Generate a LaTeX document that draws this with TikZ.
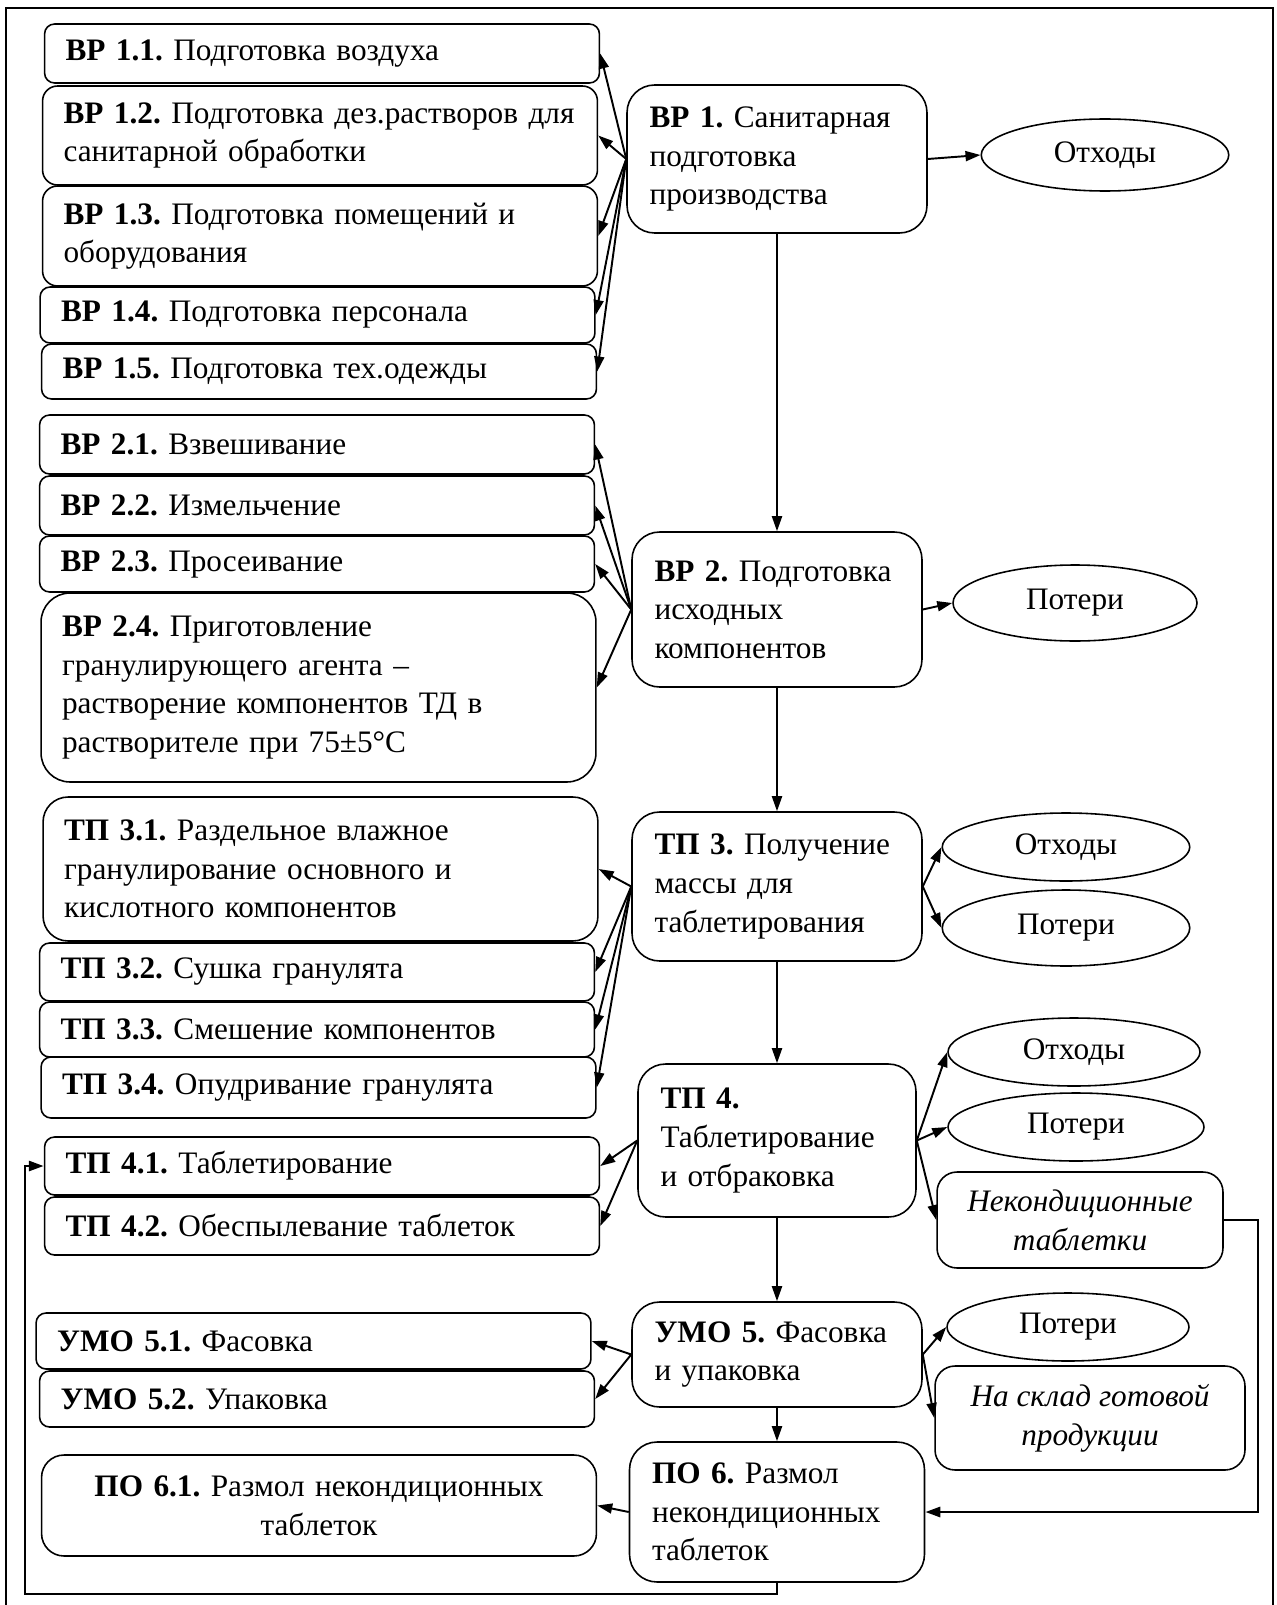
\documentclass[tikz,border=0pt]{standalone}
\usepackage{fontspec}
\setmainfont{Liberation Serif}
\frenchspacing
\usetikzlibrary{positioning,arrows.meta,shapes.geometric}

\begin{document}
\begin{tikzpicture}[
  x=0.02cm, y=-0.02cm,
  cell/.style={rectangle, draw, line width=0.9pt, inner ysep=0pt,
    font=\fontsize{17.8}{22}\selectfont},
  sub/.style={cell, rounded corners=0.2cm, text width=10.26cm,
    inner xsep=0.42cm, align=left},
  stage/.style={cell, rounded corners=0.55cm, text width=4.9cm,
    inner xsep=0.45cm, align=left},
  waste/.style={ellipse, draw, line width=0.9pt, inner sep=0pt,
    minimum width=4.95cm, minimum height=1.36cm,
    font=\fontsize{17.8}{22}\selectfont},
  note/.style={cell, rounded corners=0.4cm, align=center,
    font=\fontsize{17.8}{22}\selectfont\itshape},
  arr/.style={-{Triangle[length=0.3cm, width=0.2cm]}, line width=1.1pt},
  fb/.style={arr, line width=1.6pt}
]
\useasboundingbox (0,0) rectangle (1276,1605);

% Outer frame
\draw[line width=1.2pt] (6,1605) -- (6,8) -- (1273,8) -- (1273,1605);

% Main stages
\node[stage, text width=5.1cm, minimum height=2.96cm] (s1) at (777, 159) {\textbf{ВР 1.} Санитарная\\подготовка\\производства};
\node[stage, minimum height=3.1cm] (s2) at (777, 609.5) {\textbf{ВР 2.} Подготовка\\исходных\\компонентов};
\node[stage, minimum height=2.98cm] (s3) at (777, 886.5) {\textbf{ТП 3.} Получение\\массы для\\таблетирования};
\node[stage, text width=4.66cm, minimum height=3.06cm] (s4) at (777, 1140.5) {\textbf{ТП 4.}\\Таблетирование\\и отбраковка};
\node[stage, minimum height=2.1cm] (s5) at (777, 1354.5) {\textbf{УМО 5.} Фасовка\\и упаковка};
\node[stage, text width=5cm, minimum height=2.8cm] (s6) at (777, 1512) {\textbf{ПО 6.} Размол\\некондиционных\\таблеток};

\draw[arr] (s1) -- (s2);
\draw[arr] (s2) -- (s3);
\draw[arr] (s3) -- (s4);
\draw[arr] (s4) -- (s5);
\draw[arr] (s5) -- (s6);

% Stage 1 operations
\node[sub, minimum height=1.18cm] (b11) at (322, 53.5) {\textbf{ВР 1.1.} Подготовка воздуха};
\node[sub, rounded corners=0.3cm, minimum height=1.98cm] (b12) at (320, 135.5) {\textbf{ВР 1.2.} Подготовка дез.растворов для\\санитарной обработки};
\node[sub, rounded corners=0.3cm, minimum height=2cm] (b13) at (320, 236) {\textbf{ВР 1.3.} Подготовка помещений и\\оборудования};
\node[sub, minimum height=1.12cm] (b14) at (317.5, 315) {\textbf{ВР 1.4.} Подготовка персонала};
\node[sub, minimum height=1.1cm] (b15) at (319, 371.5) {\textbf{ВР 1.5.} Подготовка тех.одежды};

\foreach \b in {b11,b12,b13,b14,b15}
  \draw[arr] (s1.west) -- (\b.east);

% Stage 2 operations
\node[sub, minimum height=1.18cm] (b21) at (317, 444.5) {\textbf{ВР 2.1.} Взвешивание};
\node[sub, minimum height=1.18cm] (b22) at (317, 505.5) {\textbf{ВР 2.2.} Измельчение};
\node[sub, minimum height=1.12cm] (b23) at (317, 564) {\textbf{ВР 2.3.} Просеивание};
\node[sub, rounded corners=0.58cm, minimum height=3.78cm] (b24) at (318.5, 687.5) {\textbf{ВР 2.4.} Приготовление\\гранулирующего агента --\\растворение компонентов ТД в\\растворителе при 75±5°С};

\foreach \b in {b21,b22,b23,b24}
  \draw[arr] (s2.west) -- (\b.east);

% Stage 3 operations
\node[sub, rounded corners=0.5cm, minimum height=2.88cm] (b31) at (320.5, 869) {\textbf{ТП 3.1.} Раздельное влажное\\гранулирование основного и\\кислотного компонентов};
\node[sub, minimum height=1.16cm] (b32) at (317, 972) {\textbf{ТП 3.2.} Сушка гранулята};
\node[sub, minimum height=1.1cm] (b33) at (317, 1029.5) {\textbf{ТП 3.3.} Смешение компонентов};
\node[sub, minimum height=1.22cm] (b34) at (318.5, 1087.5) {\textbf{ТП 3.4.} Опудривание гранулята};

\foreach \b in {b31,b32,b33,b34}
  \draw[arr] (s3.west) -- (\b.east);

% Stage 4 operations
\node[sub, minimum height=1.16cm] (b41) at (322, 1166) {\textbf{ТП 4.1.} Таблетирование};
\node[sub, minimum height=1.16cm] (b42) at (322, 1226) {\textbf{ТП 4.2.} Обеспылевание таблеток};

\draw[arr] (s4.west) -- (b41.east);
\draw[arr] (s4.west) -- (b42.east);

% Stage 5 operations
\node[sub, minimum height=1.12cm] (b51) at (313.5, 1341) {\textbf{УМО 5.1.} Фасовка};
\node[sub, minimum height=1.12cm] (b52) at (317, 1399) {\textbf{УМО 5.2.} Упаковка};

\draw[arr] (s5.west) -- (b51.east);
\draw[arr] (s5.west) -- (b52.east);

% Stage 6 operation
\node[sub, rounded corners=0.45cm, align=center, minimum height=2.02cm] (b61) at (319, 1505.5) {\textbf{ПО 6.1.} Размол некондиционных\\таблеток};

\draw[arr] (s6.west) -- (b61.east);

% Waste and losses
\node[waste, minimum height=1.44cm] (o1) at (1105, 155) {Отходы};
\node[waste, minimum width=4.88cm, minimum height=1.52cm] (o2) at (1075, 603) {Потери};
\node[waste] (o3) at (1066, 847) {Отходы};
\node[waste, minimum height=1.52cm] (o4) at (1066, 928) {Потери};
\node[waste, minimum width=5.04cm] (o5) at (1074, 1052) {Отходы};
\node[waste, minimum width=5.12cm] (o6) at (1076, 1127) {Потери};
\node[waste, minimum width=4.84cm] (o7) at (1068, 1327) {Потери};

\node[note, minimum width=5.72cm, minimum height=1.92cm] (n1) at (1080, 1220) {Некондиционные\\таблетки};
\node[note, minimum width=6.2cm, minimum height=2.08cm] (n2) at (1090, 1418) {На склад готовой\\продукции};

\draw[arr] (s1.east) -- (o1.west);
\draw[arr] (s2.east) -- (o2.west);
\draw[arr] (s3.east) -- (o3.west);
\draw[arr] (s3.east) -- (o4.west);
\draw[arr] (s4.east) -- (o5.west);
\draw[arr] (s4.east) -- (o6.west);
\draw[arr] (s4.east) -- (n1.west);
\draw[arr] (s5.east) -- (o7.west);
\draw[arr] (s5.east) -- (n2.west);

% Return loops
\coordinate (fbr) at (1258, 1220);
\coordinate (fbl) at (25, 1594);
\draw[fb] (n1.east) -- (fbr) |- (s6.east);
\draw[fb] (s6.south) |- (fbl) |- (b41.west);

\end{tikzpicture}
\end{document}
